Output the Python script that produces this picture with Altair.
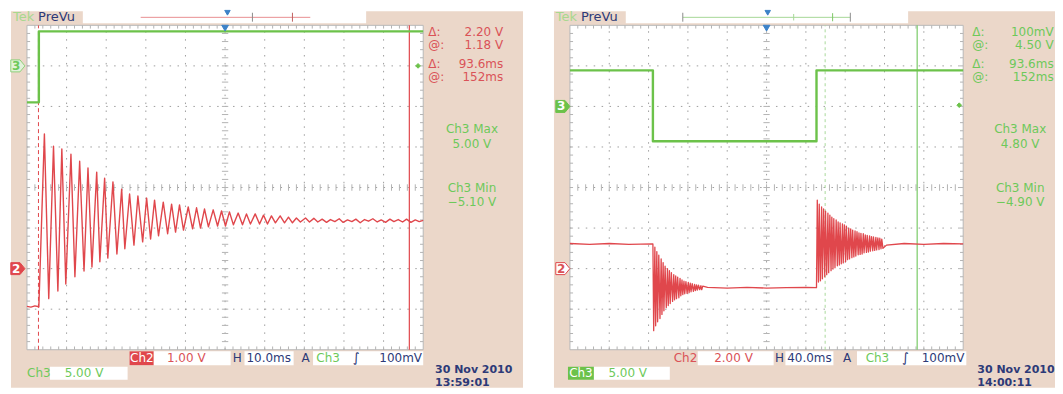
import altair as alt
import pandas as pd

# ===================== waveform data (graticule divisions) =====================
# Left capture: H 10.0 ms/div, Ch2 1.00 V/div, Ch3 5.00 V/div
L_ch3_t = [0.00, 0.30, 0.30, 10.00]
L_ch3_v = [2.10, 2.10, 3.85, 3.85]

L_ch2_pre_t = [0.00, 0.10, 0.20, 0.30]
L_ch2_pre_v = [-2.93, -2.95, -2.92, -2.94]
L_peak_t = [0.44, 0.67, 0.88, 1.11, 1.33, 1.54, 1.76, 1.96, 2.17, 2.39, 2.59, 2.80,
            3.02, 3.22, 3.44, 3.65, 3.85, 4.07, 4.28, 4.48, 4.70, 4.91, 5.11, 5.33,
            5.54, 5.76, 5.97, 6.17, 6.39, 6.60, 6.80, 7.03]
L_peak_v = [1.32, 1.02, 0.95, 0.82, 0.65, 0.48, 0.38, 0.23, 0.14, -0.04, -0.16, -0.21,
            -0.26, -0.31, -0.36, -0.41, -0.43, -0.48, -0.50, -0.53, -0.55, -0.58, -0.60, -0.63,
            -0.65, -0.65, -0.68, -0.70, -0.70, -0.73, -0.75, -0.75]
L_trough_t = [0.55, 0.78, 0.98, 1.21, 1.44, 1.64, 1.84, 2.04, 2.27, 2.47, 2.70, 2.92,
              3.12, 3.32, 3.55, 3.75, 3.95, 4.18, 4.38, 4.58, 4.81, 5.01, 5.21, 5.44,
              5.64, 5.87, 6.07, 6.27, 6.50, 6.70, 6.90, 7.13]
L_trough_v = [-2.74, -2.55, -2.38, -2.20, -2.06, -1.96, -1.83, -1.74, -1.64, -1.51, -1.42, -1.34,
              -1.27, -1.19, -1.14, -1.10, -1.05, -1.02, -1.00, -0.97, -0.95, -0.95, -0.92, -0.92,
              -0.90, -0.90, -0.90, -0.87, -0.87, -0.87, -0.85, -0.85]
L_tail_t = [7.24, 7.34, 7.45, 7.56, 7.66, 7.77, 7.88, 7.98, 8.09, 8.20, 8.30, 8.41, 8.52, 8.62,
            8.73, 8.84, 8.94, 9.05, 9.16, 9.26, 9.37, 9.48, 9.58, 9.69, 9.80, 9.90, 10.00]
L_tail_v = [-0.76, -0.85, -0.78, -0.86, -0.79, -0.84, -0.77, -0.86, -0.80, -0.84, -0.78, -0.87,
            -0.79, -0.83, -0.77, -0.85, -0.80, -0.86, -0.78, -0.84, -0.79, -0.85, -0.78, -0.86,
            -0.80, -0.84, -0.81]

# Right capture: H 40.0 ms/div, Ch2 2.00 V/div, Ch3 5.00 V/div
R_ch3_t = [0.00, 2.11, 2.11, 6.27, 6.27, 10.00]
R_ch3_v = [2.89, 2.89, 1.14, 1.14, 2.89, 2.89]

R_ch2_pre_t = [0.00, 0.50, 1.00, 1.50, 2.11]
R_ch2_pre_v = [-1.38, -1.40, -1.38, -1.40, -1.39]
R_fall_trough_t = [2.13, 2.18, 2.23, 2.29, 2.34, 2.39, 2.45, 2.50, 2.55, 2.61, 2.66, 2.71,
                   2.77, 2.82, 2.87, 2.92, 2.98, 3.03, 3.08, 3.14, 3.19, 3.24, 3.30, 3.35]
R_fall_trough_v = [-3.53, -3.41, -3.31, -3.23, -3.13, -3.04, -2.96, -2.91, -2.86, -2.81, -2.77, -2.74,
                   -2.72, -2.67, -2.64, -2.62, -2.61, -2.59, -2.57, -2.56, -2.54, -2.53, -2.52, -2.52]
R_fall_peak_t = [2.16, 2.21, 2.26, 2.32, 2.37, 2.42, 2.48, 2.53, 2.58, 2.64, 2.69, 2.74,
                 2.80, 2.85, 2.90, 2.95, 3.01, 3.06, 3.11, 3.17, 3.22, 3.27, 3.33, 3.38]
R_fall_peak_v = [-1.47, -1.58, -1.67, -1.76, -1.85, -1.94, -2.00, -2.05, -2.10, -2.15, -2.18, -2.21,
                 -2.24, -2.28, -2.31, -2.32, -2.34, -2.36, -2.37, -2.39, -2.40, -2.41, -2.42, -2.43]
R_ch2_mid_t = [3.50, 4.00, 4.50, 5.00, 5.50, 6.00, 6.27]
R_ch2_mid_v = [-2.46, -2.48, -2.46, -2.48, -2.47, -2.46, -2.47]
R_rise_peak_t = [6.29, 6.34, 6.40, 6.45, 6.50, 6.56, 6.61, 6.66, 6.71, 6.77, 6.82, 6.87, 6.93, 6.98,
                 7.03, 7.09, 7.14, 7.19, 7.25, 7.30, 7.35, 7.40, 7.46, 7.51, 7.56, 7.62, 7.67, 7.72,
                 7.78, 7.83, 7.88, 7.93]
R_rise_peak_v = [-0.31, -0.41, -0.48, -0.53, -0.58, -0.63, -0.68, -0.73, -0.77, -0.80, -0.85, -0.87,
                 -0.90, -0.92, -0.95, -1.00, -1.02, -1.05, -1.07, -1.09, -1.12, -1.13, -1.14, -1.17,
                 -1.18, -1.19, -1.21, -1.22, -1.23, -1.24, -1.25, -1.27]
R_rise_trough_t = [6.32, 6.37, 6.42, 6.48, 6.53, 6.58, 6.64, 6.69, 6.74, 6.80, 6.85, 6.90, 6.95, 7.01,
                   7.06, 7.11, 7.17, 7.22, 7.27, 7.33, 7.38, 7.43, 7.48, 7.54, 7.59, 7.64, 7.70, 7.75,
                   7.80, 7.86, 7.91, 7.96]
R_rise_trough_v = [-2.33, -2.30, -2.25, -2.20, -2.15, -2.10, -2.05, -2.01, -1.98, -1.93, -1.91, -1.88,
                   -1.86, -1.83, -1.78, -1.76, -1.73, -1.71, -1.69, -1.66, -1.65, -1.64, -1.61, -1.60,
                   -1.59, -1.57, -1.56, -1.55, -1.54, -1.53, -1.51, -1.50]
R_ch2_tail_t = [8.05, 8.50, 9.00, 9.50, 10.00]
R_ch2_tail_v = [-1.42, -1.38, -1.40, -1.38, -1.39]

# cursor positions (div)
L_cursors = [0.29, 9.65]
R_cursors = [6.49, 8.83]

# ===================== screen text =====================
CURSOR_LABELS = ["Δ:", "@:", "Δ:", "@:"]
L_cursor_values = ["2.20 V", "1.18 V", "93.6ms", "152ms"]
R_cursor_values = ["100mV", "4.50 V", "93.6ms", "152ms"]
L_ch3_stats = ["Ch3 Max", "5.00 V", "Ch3 Min", "−5.10 V"]
R_ch3_stats = ["Ch3 Max", "4.80 V", "Ch3 Min", "−4.90 V"]
L_settings = ["1.00 V", "10.0ms", "100mV", "5.00 V"]
R_settings = ["2.00 V", "40.0ms", "100mV", "5.00 V"]
L_date = ["30 Nov 2010", "13:59:01"]
R_date = ["30 Nov 2010", "14:00:11"]

# ===================== style =====================
PEACH = "#EBD7C9"
WHITE = "#FFFFFF"
RED = "#E0474C"
RED_TXT = "#DA5257"
GREEN = "#6CC24A"
GREEN_TXT = "#6DC95A"
NAVY = "#2D3A78"
GRID = "#9E9E9E"
TICK = "#B4B4B4"
BLUE = "#3C82C8"
FONT = "DejaVu Sans"

YMIN, YMAX, HEIGHT = -4.935, 4.3692, 378


def scales(xmin, xmax):
    return (alt.Scale(domain=[xmin, xmax], nice=False, zero=False),
            alt.Scale(domain=[YMIN, YMAX], nice=False, zero=False))


def rects(rows, xs, ys):
    df = pd.DataFrame(rows, columns=["x", "x2", "y", "y2", "fill", "stroke", "sw"])
    return alt.Chart(df).mark_rect().encode(
        x=alt.X("x:Q", scale=xs, axis=None), x2="x2:Q",
        y=alt.Y("y:Q", scale=ys, axis=None), y2="y2:Q",
        fill=alt.Fill("fill:N", scale=None),
        stroke=alt.Stroke("stroke:N", scale=None),
        strokeWidth=alt.StrokeWidth("sw:Q", scale=None))


def segs(rows, xs, ys, width=1.0, dash=None):
    df = pd.DataFrame(rows, columns=["x", "x2", "y", "y2", "c"])
    kw = dict(strokeWidth=width)
    if dash:
        kw["strokeDash"] = dash
    return alt.Chart(df).mark_rule(**kw).encode(
        x=alt.X("x:Q", scale=xs, axis=None), x2="x2:Q",
        y=alt.Y("y:Q", scale=ys, axis=None), y2="y2:Q",
        color=alt.Color("c:N", scale=None))


def trace(t, v, color, width, xs, ys):
    df = pd.DataFrame({"t": t, "v": v, "i": list(range(len(t)))})
    return alt.Chart(df).mark_line(color=color, strokeWidth=width, strokeJoin="round").encode(
        x=alt.X("t:Q", scale=xs, axis=None),
        y=alt.Y("v:Q", scale=ys, axis=None),
        order="i:Q")


def texts(rows, xs, ys, align="left", weight="normal"):
    df = pd.DataFrame(rows, columns=["x", "y", "t", "c", "s"])
    return alt.Chart(df).mark_text(align=align, baseline="middle", font=FONT,
                                   fontWeight=weight).encode(
        x=alt.X("x:Q", scale=xs, axis=None),
        y=alt.Y("y:Q", scale=ys, axis=None),
        text="t:N",
        color=alt.Color("c:N", scale=None),
        size=alt.Size("s:Q", scale=None))


def symbols(rows, xs, ys, shape):
    df = pd.DataFrame(rows, columns=["x", "y", "fill", "stroke", "size"])
    return alt.Chart(df).mark_point(shape=shape, filled=True, opacity=1, strokeWidth=1).encode(
        x=alt.X("x:Q", scale=xs, axis=None),
        y=alt.Y("y:Q", scale=ys, axis=None),
        fill=alt.Fill("fill:N", scale=None),
        stroke=alt.Stroke("stroke:N", scale=None),
        size=alt.Size("size:Q", scale=None))


def graticule(xs, ys):
    grid = [(k, k, -4, 4, GRID) for k in range(1, 10)] + \
           [(0, 10, k, k, GRID) for k in range(-3, 4)]
    ticks = []
    for k in range(1, 50):
        a = k * 0.2
        ticks += [(a, a, 4, 3.92, TICK), (a, a, -4, -3.92, TICK), (a, a, -0.08, 0.08, TICK)]
    for k in range(1, 40):
        b = -4 + k * 0.2
        ticks += [(0, 0.08, b, b, TICK), (10, 9.92, b, b, TICK), (4.92, 5.08, b, b, TICK)]
    return [segs(grid, xs, ys, 1, [1.5, 6.44]), segs(ticks, xs, ys, 1)]


def interleave(a_t, a_v, b_t, b_v):
    t, v = [], []
    for i in range(len(a_t)):
        t += [a_t[i], b_t[i]]
        v += [a_v[i], b_v[i]]
    return t, v


BADGE = "M-1,-0.85L0.3,-0.85L1,0L0.3,0.85L-1,0.85Z"
ROWS_Y = [3.83, 3.51, 3.04, 2.72]
STATS_Y = [1.44, 1.07, -0.01, -0.36]
R1, R2 = -4.21, -4.58
D1, D2 = -4.50, -4.82

# ===================== left screen =====================
xs, ys = scales(-0.4534, 12.519)
lt, lv = interleave(L_peak_t, L_peak_v, L_trough_t, L_trough_v)
L_ch2_t = L_ch2_pre_t + lt + L_tail_t
L_ch2_v = L_ch2_pre_v + lv + L_tail_v

left_layers = [
    rects([(-0.403, 12.519, YMIN, 4.345, PEACH, PEACH, 0),
           (1.41, 8.56, 4.05, YMAX, WHITE, WHITE, 0),
           (0, 10, -4, 4, WHITE, "#B8B8B8", 1),
           (2.59, 3.20, -4.38, -4.04, RED, RED, 0),
           (3.20, 5.14, -4.38, -4.04, WHITE, WHITE, 0),
           (5.49, 6.73, -4.38, -4.04, WHITE, WHITE, 0),
           (7.22, 10.0, -4.38, -4.04, WHITE, WHITE, 0),
           (0.58, 2.54, -4.74, -4.42, WHITE, WHITE, 0)], xs, ys),
    segs([(2.87, 7.15, 4.197, 4.197, "#E88F92")], xs, ys, 1),
    segs([(5.69, 5.69, 4.09, 4.31, "#8C8C8C"), (6.70, 6.70, 4.09, 4.31, "#C06060")], xs, ys, 1),
    *graticule(xs, ys),
    segs([(L_cursors[0], L_cursors[0], -4, 4, RED)], xs, ys, 1, [4, 3]),
    segs([(L_cursors[1], L_cursors[1], -4, 4, RED)], xs, ys, 1.2),
    trace(L_ch3_t, L_ch3_v, GREEN, 2.4, xs, ys),
    trace(L_ch2_t, L_ch2_v, RED, 1.4, xs, ys),
    texts([(-0.35, 4.21, "Tek", "#A8D88E", 13)], xs, ys, "left"),
    texts([(0.28, 4.21, "PreVu", NAVY, 13)], xs, ys, "left"),
    texts([(10.13, y, s, RED_TXT, 12) for y, s in zip(ROWS_Y, CURSOR_LABELS)], xs, ys, "left"),
    texts([(12.02, y, s, RED_TXT, 12) for y, s in zip(ROWS_Y, L_cursor_values)], xs, ys, "right"),
    texts([(11.23, y, s, GREEN_TXT, 12) for y, s in zip(STATS_Y, L_ch3_stats)] +
          [(2.90, R1, "Ch2", WHITE, 12), (4.02, R1, L_settings[0], RED_TXT, 12),
           (5.31, R1, "H", NAVY, 12), (6.10, R1, L_settings[1], NAVY, 12),
           (7.03, R1, "A", NAVY, 12), (7.60, R1, "Ch3", GREEN_TXT, 12),
           (8.31, R1, "∫", NAVY, 13),
           (0.30, R2, "Ch3", GREEN_TXT, 12), (1.44, R2, L_settings[3], GREEN_TXT, 12)],
          xs, ys, "center"),
    texts([(9.97, R1, L_settings[2], NAVY, 12)], xs, ys, "right"),
    texts([(10.30, D1, L_date[0], NAVY, 11), (10.30, D2, L_date[1], NAVY, 11)],
          xs, ys, "left", "bold"),
    symbols([(5.06, 4.31, BLUE, BLUE, 30), (5.0, 3.93, BLUE, BLUE, 45)], xs, ys, "triangle-down"),
    symbols([(9.87, 3.0, GREEN, GREEN, 22)], xs, ys, "diamond"),
    symbols([(-0.23, 3.0, "#E2F2DA", "#8FD07A", 200), (-0.23, -2.0, RED, RED, 200)], xs, ys, BADGE),
    texts([(-0.27, 3.0, "3", GREEN_TXT, 12), (-0.27, -2.0, "2", WHITE, 12)], xs, ys, "center", "bold"),
]
left = alt.layer(*left_layers).properties(width=515, height=HEIGHT)

# ===================== right screen =====================
xs, ys = scales(-0.4061, 12.335)
ft, fv = interleave(R_fall_trough_t, R_fall_trough_v, R_fall_peak_t, R_fall_peak_v)
rt, rv = interleave(R_rise_peak_t, R_rise_peak_v, R_rise_trough_t, R_rise_trough_v)
R_ch2_t = R_ch2_pre_t + ft + R_ch2_mid_t + rt + R_ch2_tail_t
R_ch2_v = R_ch2_pre_v + fv + R_ch2_mid_v + rv + R_ch2_tail_v

right_layers = [
    rects([(-0.406, 12.335, YMIN, 4.345, PEACH, PEACH, 0),
           (1.42, 8.60, 4.05, YMAX, WHITE, WHITE, 0),
           (0, 10, -4, 4, WHITE, "#B8B8B8", 1),
           (3.25, 5.18, -4.38, -4.04, WHITE, WHITE, 0),
           (5.48, 6.70, -4.38, -4.04, WHITE, WHITE, 0),
           (7.30, 10.08, -4.38, -4.04, WHITE, WHITE, 0),
           (-0.05, 0.61, -4.74, -4.42, GREEN, GREEN, 0),
           (0.61, 2.54, -4.74, -4.42, WHITE, WHITE, 0)], xs, ys),
    segs([(2.87, 7.13, 4.197, 4.197, "#A6D897")], xs, ys, 1),
    segs([(2.87, 2.87, 4.09, 4.31, "#8C8C8C"), (7.13, 7.13, 4.09, 4.31, "#8C8C8C"),
          (5.69, 5.69, 4.12, 4.28, "#A6D897"), (6.68, 6.68, 4.10, 4.30, "#7CC766")], xs, ys, 1),
    *graticule(xs, ys),
    segs([(R_cursors[0], R_cursors[0], -4, 4, "#A9D99B")], xs, ys, 1, [3, 3]),
    segs([(R_cursors[1], R_cursors[1], -4, 4, "#7ACB67")], xs, ys, 1.2),
    trace(R_ch3_t, R_ch3_v, GREEN, 2.4, xs, ys),
    trace(R_ch2_t, R_ch2_v, RED, 1.3, xs, ys),
    texts([(-0.36, 4.21, "Tek", "#A8D88E", 13)], xs, ys, "left"),
    texts([(0.28, 4.21, "PreVu", NAVY, 13)], xs, ys, "left"),
    texts([(10.23, y, s, GREEN_TXT, 12) for y, s in zip(ROWS_Y, CURSOR_LABELS)], xs, ys, "left"),
    texts([(12.30, y, s, GREEN_TXT, 12) for y, s in zip(ROWS_Y, R_cursor_values)], xs, ys, "right"),
    texts([(11.45, y, s, GREEN_TXT, 12) for y, s in zip(STATS_Y, R_ch3_stats)] +
          [(2.94, R1, "Ch2", RED_TXT, 12), (4.16, R1, R_settings[0], RED_TXT, 12),
           (5.33, R1, "H", NAVY, 12), (6.09, R1, R_settings[1], NAVY, 12),
           (7.05, R1, "A", NAVY, 12), (7.82, R1, "Ch3", GREEN_TXT, 12),
           (8.53, R1, "∫", NAVY, 13),
           (0.28, R2, "Ch3", WHITE, 12), (1.47, R2, R_settings[3], GREEN_TXT, 12)],
          xs, ys, "center"),
    texts([(10.03, R1, R_settings[2], NAVY, 12)], xs, ys, "right"),
    texts([(10.36, D1, R_date[0], NAVY, 11), (10.36, D2, R_date[1], NAVY, 11)],
          xs, ys, "left", "bold"),
    symbols([(5.03, 4.31, BLUE, BLUE, 30), (5.0, 3.93, BLUE, BLUE, 45)], xs, ys, "triangle-down"),
    symbols([(9.90, 2.03, GREEN, GREEN, 22)], xs, ys, "diamond"),
    symbols([(-0.18, 2.0, GREEN, GREEN, 200), (-0.18, -2.0, WHITE, RED, 200)], xs, ys, BADGE),
    texts([(-0.22, 2.0, "3", WHITE, 12), (-0.22, -2.0, "2", RED_TXT, 12)], xs, ys, "center", "bold"),
]
right = alt.layer(*right_layers).properties(width=502, height=HEIGHT)

chart = alt.hconcat(left, right, spacing=30, padding=0, background="white").configure_view(stroke=None)
chart.save("out.html", embed_options={"renderer": "svg", "actions": False})
